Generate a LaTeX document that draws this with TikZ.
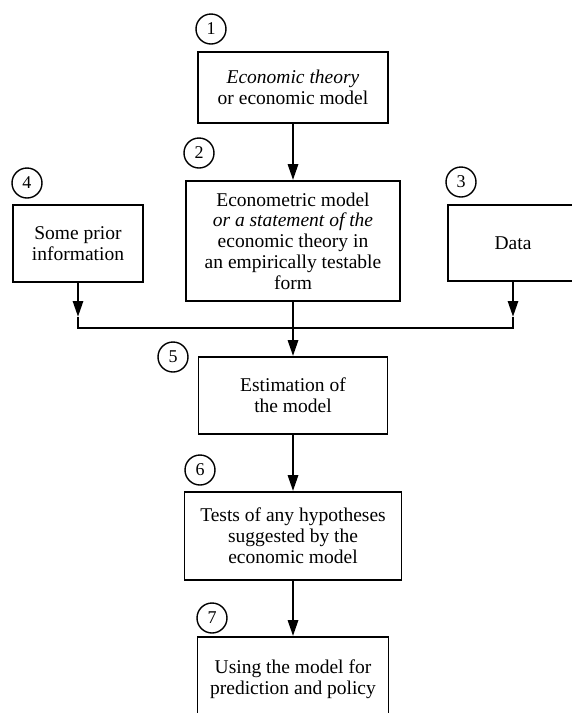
\documentclass[tikz,border=0pt]{standalone}
\usepackage{fontspec}
\setmainfont{Liberation Serif}
\usetikzlibrary{arrows.meta}
\begin{document}
\begin{tikzpicture}[x=1pt,y=-1pt,
  box/.style={draw, line width=1.6pt, align=center, inner sep=0pt, font=\fontsize{19.5}{20.8}\selectfont},
  num/.style={draw, circle, line width=1.4pt, minimum size=30pt, inner sep=0pt, font=\fontsize{18}{18}\selectfont},
  conn/.style={line width=2.8pt},
  arr/.style={conn, -{Triangle[length=16pt,width=10pt]}}]
\useasboundingbox (0,0) rectangle (571,713);
% boxes
\node[box, minimum width=190pt, minimum height=71pt] (b1) at (293,87.5) {\textit{Economic theory}\\or economic model};
\node[box, minimum width=214pt, minimum height=120pt] (b2) at (293,241) {Econometric model\\\textit{or a statement of the}\\economic theory in\\an empirically testable\\form};
\node[box, minimum width=130pt, minimum height=77pt] (b4) at (78,243.5) {Some prior\\information};
\node[box, minimum width=130pt, minimum height=76pt] (b3) at (513,243) {Data};
\node[box, minimum width=189pt, minimum height=77pt] (b5) at (293,395.5) {Estimation of\\the model};
\node[box, minimum width=217pt, minimum height=88pt] (b6) at (293,536) {Tests of any hypotheses\\suggested by the\\economic model};
\node[box, minimum width=191pt, minimum height=84pt] (b7) at (293,679) {Using the model for\\prediction and policy};
% numbers
\node[num] (c1) at (211,29) {1};
\node[num] (c2) at (199,153) {2};
\node[num] (c3) at (461,182) {3};
\node[num] (c4) at (27,183) {4};
\node[num] (c5) at (173,357) {5};
\node[num] (c6) at (200,470) {6};
\node[num] (c7) at (212,618) {7};
% junction points
\coordinate (m4) at (b4.south |- 0,317);
\coordinate (j4) at (b4.south |- 0,328);
\coordinate (m3) at (b3.south |- 0,317);
\coordinate (j3) at (b3.south |- 0,328);
% connectors
\draw[arr] (b1.south) -- (b2.north);
\draw[arr] (b4.south) -- (m4);
\draw[arr] (b3.south) -- (m3);
\draw[conn] (m4) -- (j4) -- (j3) -- (m3);
\draw[arr] (b2.south) -- (b5.north);
\draw[arr] (b5.south) -- (b6.north);
\draw[arr] (b6.south) -- (b7.north);
\end{tikzpicture}
\end{document}
